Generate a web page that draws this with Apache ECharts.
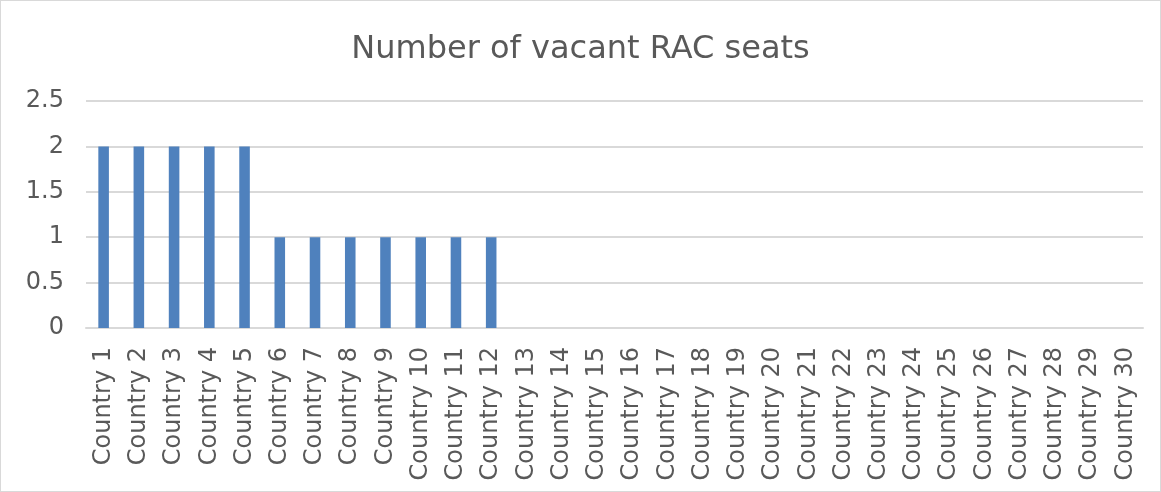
<!DOCTYPE html>
<html>
<head>
<meta charset="utf-8">
<script src="https://cdn.jsdelivr.net/npm/echarts@6/dist/echarts.min.js"></script>
<style>
  html, body { margin: 0; padding: 0; background: #fff; }
  #chart { width: 1159px; height: 490px; border: 1px solid #d9d9d9; }
</style>
</head>
<body>
<div id="chart"></div>
<script>
// data
var categories = [];
for (var i = 1; i <= 30; i++) categories.push('Country ' + i);
var vacantSeats = [2, 2, 2, 2, 2, 1, 1, 1, 1, 1, 1, 1,
                   0, 0, 0, 0, 0, 0, 0, 0, 0, 0, 0, 0, 0, 0, 0, 0, 0, 0];
var yTicks = [0, 0.5, 1, 1.5, 2, 2.5];

var font = "'DejaVu Sans', Verdana, sans-serif";
var myChart = echarts.init(document.getElementById('chart'));
var option = {
    backgroundColor: '#fff',
    animation: false,
    title: {
        text: 'Number of vacant RAC seats',
        left: 'center',
        top: 28,
        textStyle: { color: '#595959', fontSize: 32, fontWeight: 'normal', fontFamily: font }
    },
    grid: { left: 85, right: 17, top: 100, bottom: 163 },
    xAxis: {
        type: 'category',
        data: categories,
        axisTick: { show: false },
        axisLine: { lineStyle: { color: '#d9d9d9', width: 2 } },
        axisLabel: { rotate: 90, color: '#595959', fontSize: 24, fontFamily: font, margin: 19, interval: 0 }
    },
    yAxis: {
        type: 'value',
        min: yTicks[0],
        max: yTicks[yTicks.length - 1],
        interval: 0.5,
        axisLine: { show: false },
        axisTick: { show: false },
        axisLabel: { color: '#595959', fontSize: 24, fontFamily: font, margin: 22 },
        splitLine: { lineStyle: { color: '#d9d9d9', width: 2 } }
    },
    series: [{
        type: 'bar',
        data: vacantSeats,
        barWidth: '30%',
        itemStyle: { color: '#4f81bd' }
    }]
};
myChart.setOption(option);
</script>
</body>
</html>
